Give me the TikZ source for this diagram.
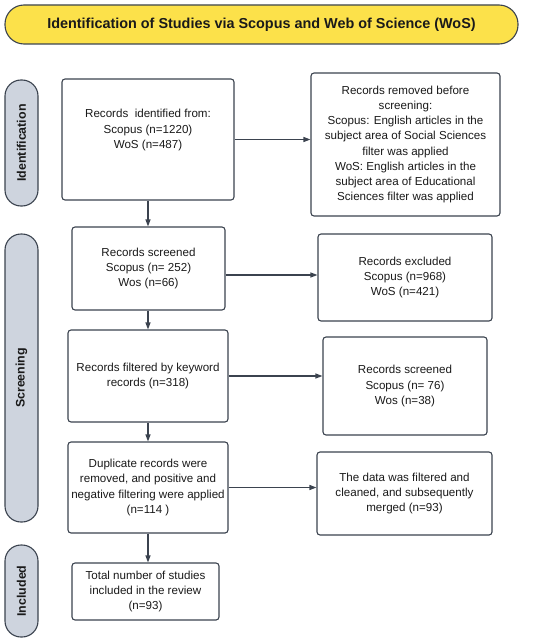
\documentclass[tikz,border=0pt]{standalone}
\usepackage{fontspec}
\setmainfont{Liberation Sans}
\usetikzlibrary{arrows.meta,calc}
\definecolor{edgec}{HTML}{3B434F}
\definecolor{pillc}{HTML}{CED4DE}
\definecolor{titlec}{HTML}{FCE14A}
\definecolor{txtc}{HTML}{1A1A1A}
\tikzset{
  box/.style={draw=edgec, line width=1.1pt, rounded corners=3pt, fill=white, inner sep=0pt, font=\fontsize{11.6}{15.2}\selectfont, text=txtc, align=center},
  pill/.style={draw=edgec, line width=1.1pt, fill=pillc, rounded corners=16pt, inner sep=0pt},
  pilltext/.style={rotate=90, font=\fontsize{12.4}{14}\selectfont\bfseries, text=txtc},
  arr/.style={draw=edgec, line width=1.1pt, -{Triangle[length=7pt,width=5pt]}}
}
\begin{document}
\begin{tikzpicture}[x=1pt,y=-1pt]
\useasboundingbox (0,0) rectangle (550,642);
% title
\node[draw=edgec, line width=1.1pt, fill=titlec, rounded corners=19pt, minimum width=513pt, minimum height=39pt, inner sep=0pt, font=\fontsize{14.4}{16}\selectfont\bfseries, text=txtc] (title) at (261.5,24.5) {Identification of Studies via Scopus and Web of Science (WoS)};
% phase pills
\node[pill, minimum width=33pt, minimum height=126pt] (pid) at (21.5,143) {};
\node[pilltext] (tid) at (pid.center) {Identification};
\node[pill, minimum width=33pt, minimum height=288pt] (psc) at (21.5,378) {};
\node[pilltext] (tsc) at (psc.center) {Screening};
\node[pill, minimum width=33pt, minimum height=92pt] (pin) at (21.5,591) {};
\node[pilltext] (tin) at (pin.center) {Included};
% left boxes
\node[box, minimum width=172pt, minimum height=121pt] (b1) at (148,139.5) {};
\node[font=\fontsize{11.6}{15.2}\selectfont, text=txtc, align=center] (t1) at (148,130) {Records\ \ identified from:\\Scopus (n=1220)\\WoS (n=487)};
\node[box, minimum width=153pt, minimum height=83pt] (b2) at (148.5,268.5) {Records screened\\Scopus (n= 252)\\Wos (n=66)};
\node[box, minimum width=160pt, minimum height=92pt] (b3) at (148,376) {Records filtered by keyword\\records (n=318)};
\node[box, minimum width=160pt, minimum height=91pt] (b4) at (148,487.5) {Duplicate records were\\removed, and positive and\\negative filtering were applied\\(n=114 )};
\node[box, minimum width=147pt, minimum height=57pt] (b5) at (145.5,591.5) {Total number of studies\\included in the review\\(n=93)};
% right boxes
\node[box, minimum width=189pt, minimum height=143pt] (r1) at (405.5,144.5) {Records removed before\\screening:\\Scopus: English articles in the\\subject area of Social Sciences\\filter was applied\\WoS: English articles in the\\subject area of Educational\\Sciences filter was applied};
\node[box, minimum width=174pt, minimum height=87pt] (r2) at (405,277.5) {Records excluded\\Scopus (n=968)\\WoS (n=421)};
\node[box, minimum width=164pt, minimum height=98pt] (r3) at (405,386) {Records screened\\Scopus (n= 76)\\Wos (n=38)};
\node[box, minimum width=175pt, minimum height=83pt] (r4) at (404.5,493.5) {The data was filtered and\\cleaned, and subsequently\\merged (n=93)};
% connectors
\draw[arr] (b1.south) -- (b1.south |- b2.north);
\draw[arr] (b1.south |- b2.south) -- (b1.south |- b3.north);
\draw[arr] (b3.south) -- (b4.north);
\draw[arr] (b4.south) -- (b4.south |- b5.north);
\draw[arr] (b1.east) -- (r1.west |- b1.east);
\coordinate (c2) at ($(b2.east)+(0,6.5)$);
\draw[arr] (c2) -- (r2.west |- c2);
\draw[arr] (b3.east) -- (r3.west |- b3.east);
\draw[arr] (b4.east) -- (r4.west |- b4.east);
\end{tikzpicture}
\end{document}
